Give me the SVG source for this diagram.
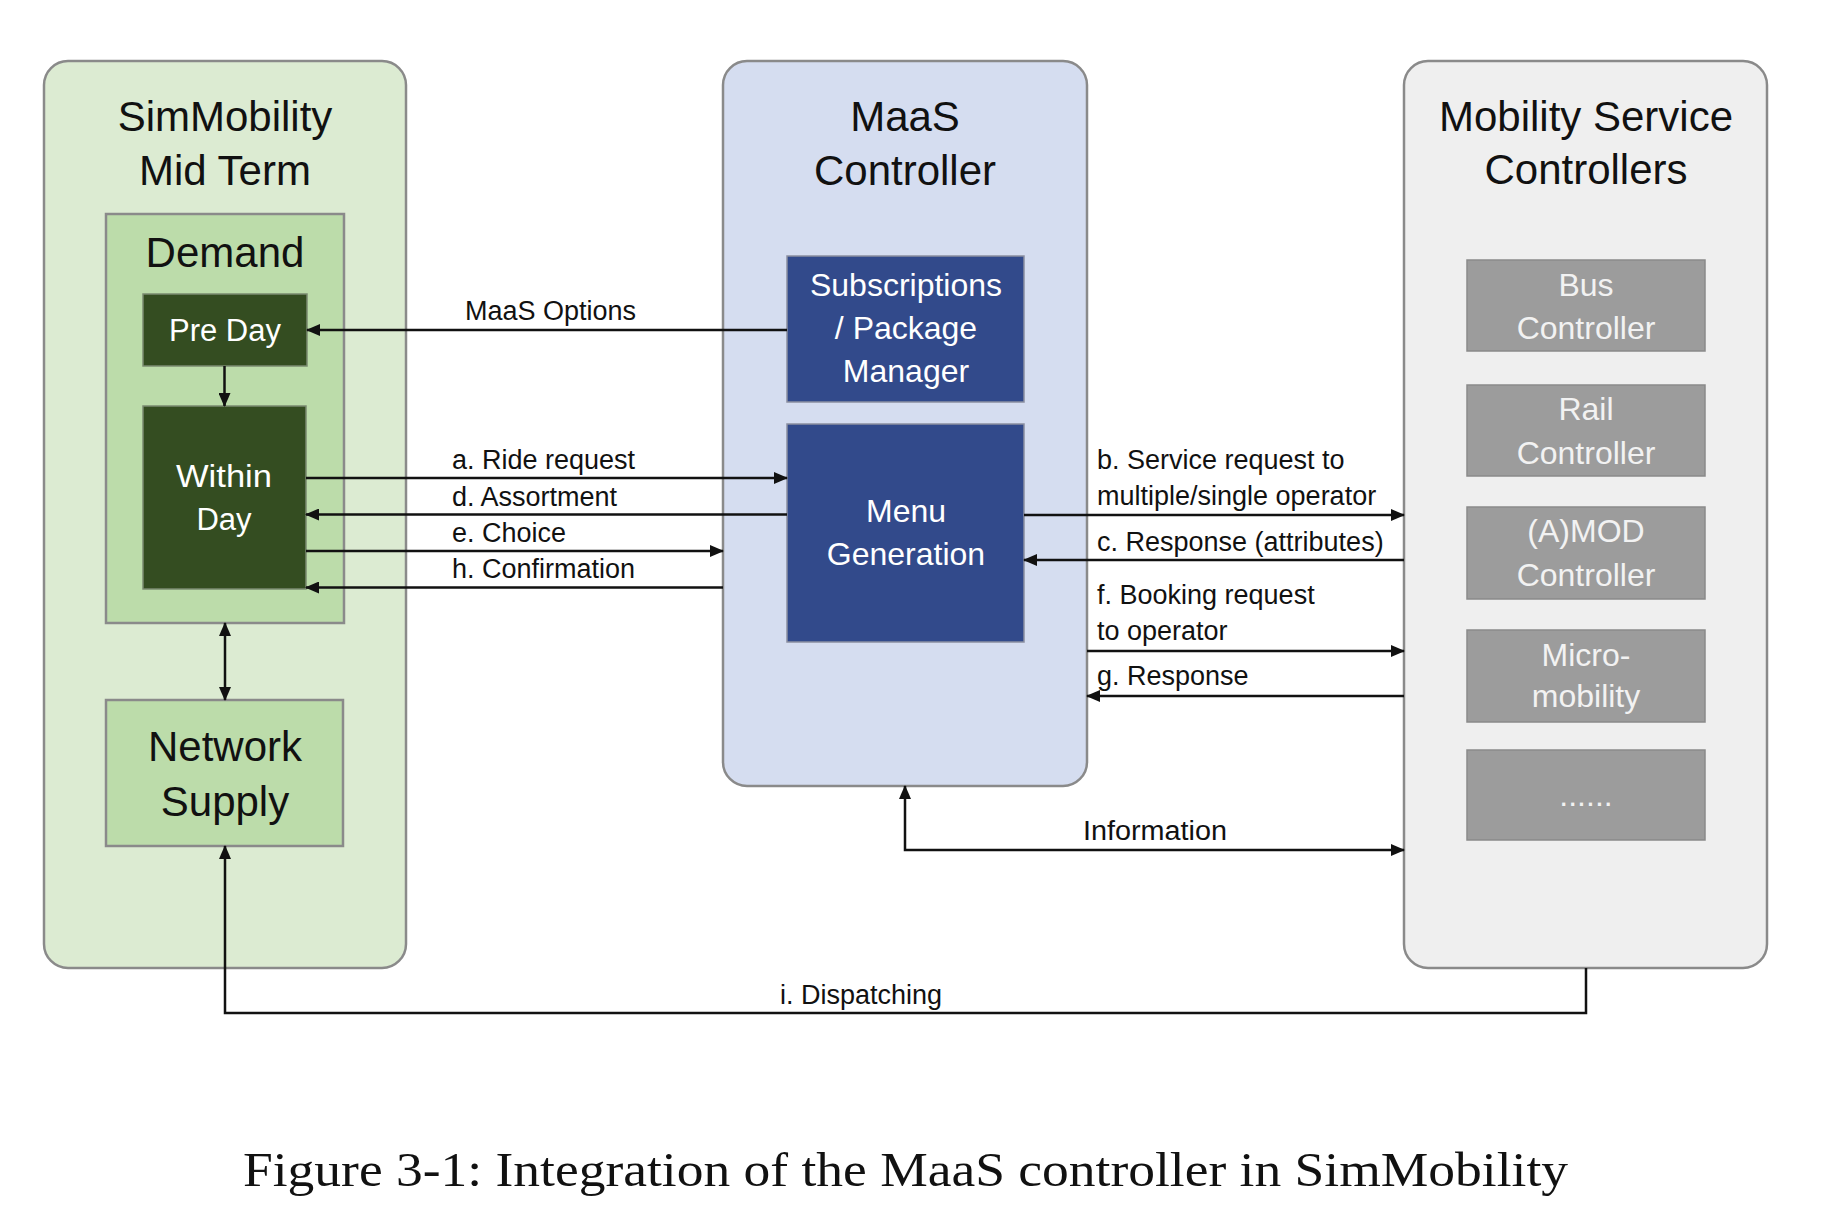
<svg xmlns="http://www.w3.org/2000/svg" width="1827" height="1222" viewBox="0 0 1827 1222">
<defs>
<marker id="ah" markerUnits="userSpaceOnUse" markerWidth="14" markerHeight="12" refX="13" refY="6" orient="auto-start-reverse">
<path d="M0,0 L14,6 L0,12 z" fill="#111"/>
</marker>
<style>
text{font-family:"Liberation Sans",Arial,sans-serif;}
.outer{stroke:#8a8a8a;stroke-width:2.5;}
.title{font-size:42px;fill:#111;text-anchor:middle;}
.mid{fill:#bcdcaa;stroke:#8a8a8a;stroke-width:2.5;}
.dark{fill:#344d21;stroke:#7a8a70;stroke-width:1.5;}
.blue{fill:#324a8b;stroke:#8a8fa0;stroke-width:1.5;}
.grey{fill:#9c9c9c;stroke:#8a8a8a;stroke-width:1.5;}
.wt{fill:#fff;text-anchor:middle;}
.gt{fill:#f2f2f2;text-anchor:middle;font-size:32px;}
.lbl{font-size:27px;fill:#111;}
.con{fill:none;stroke:#111;stroke-width:2.5;}
.cap{font-family:"Liberation Serif","Times New Roman",serif;font-size:48px;fill:#111;}
</style>
</defs>
<rect width="1827" height="1222" fill="#fff"/>

<g id="simmobility">
<rect class="outer" x="44" y="61" width="362" height="907" rx="24" fill="#dcebd2"/>
<text class="title" x="225" y="131" font-size="43">SimMobility</text>
<text class="title" x="225" y="185" font-size="43">Mid Term</text>
</g>
<g id="demand">
<rect class="mid" x="106" y="214" width="238" height="409"/>
<text class="title" x="225" y="267" font-size="40">Demand</text>
</g>
<g id="preday">
<rect class="dark" x="143" y="294" width="164" height="72"/>
<text class="wt" x="225" y="341" font-size="31">Pre Day</text>
</g>
<g id="withinday">
<rect class="dark" x="143" y="406" width="163" height="183"/>
<text class="wt" x="224" y="487" font-size="31" textLength="96" lengthAdjust="spacingAndGlyphs">Within</text>
<text class="wt" x="224" y="530" font-size="31">Day</text>
</g>
<g id="network">
<rect class="mid" x="106" y="700" width="237" height="146"/>
<text class="title" x="225" y="761" font-size="42">Network</text>
<text class="title" x="225" y="816" font-size="42">Supply</text>
</g>

<g id="maas">
<rect class="outer" x="723" y="61" width="364" height="725" rx="24" fill="#d5ddf0"/>
<text class="title" x="905" y="131">MaaS</text>
<text class="title" x="905" y="185">Controller</text>
</g>
<g id="subscriptions">
<rect class="blue" x="787" y="256" width="237" height="146"/>
<text class="wt" x="906" y="296" font-size="32">Subscriptions</text>
<text class="wt" x="906" y="339" font-size="32">/ Package</text>
<text class="wt" x="906" y="382" font-size="32">Manager</text>
</g>
<g id="menu">
<rect class="blue" x="787" y="424" width="237" height="218"/>
<text class="wt" x="906" y="522" font-size="32">Menu</text>
<text class="wt" x="906" y="565" font-size="32">Generation</text>
</g>

<g id="mobility">
<rect class="outer" x="1404" y="61" width="363" height="907" rx="24" fill="#efefef"/>
<text class="title" x="1586" y="131">Mobility Service</text>
<text class="title" x="1586" y="184">Controllers</text>
</g>
<g id="bus">
<rect class="grey" x="1467" y="260" width="238" height="91"/>
<text class="gt" x="1586" y="296">Bus</text>
<text class="gt" x="1586" y="339">Controller</text>
</g>
<g id="rail">
<rect class="grey" x="1467" y="385" width="238" height="91"/>
<text class="gt" x="1586" y="420">Rail</text>
<text class="gt" x="1586" y="464">Controller</text>
</g>
<g id="amod">
<rect class="grey" x="1467" y="507" width="238" height="92"/>
<text class="gt" x="1586" y="542">(A)MOD</text>
<text class="gt" x="1586" y="586">Controller</text>
</g>
<g id="micro">
<rect class="grey" x="1467" y="630" width="238" height="92"/>
<text class="gt" x="1586" y="666">Micro-</text>
<text class="gt" x="1586" y="707">mobility</text>
</g>
<g id="more">
<rect class="grey" x="1467" y="750" width="238" height="90"/>
<text class="gt" x="1586" y="806" font-size="22">......</text>
</g>

<g id="connectors">
<line class="con" x1="787" y1="330" x2="307" y2="330" marker-end="url(#ah)"/>
<line class="con" x1="224.5" y1="366" x2="224.5" y2="406" marker-end="url(#ah)"/>
<line class="con" x1="306" y1="478" x2="787" y2="478" marker-end="url(#ah)"/>
<line class="con" x1="787" y1="514.5" x2="306" y2="514.5" marker-end="url(#ah)"/>
<line class="con" x1="306" y1="551" x2="723" y2="551" marker-end="url(#ah)"/>
<line class="con" x1="723" y1="587.5" x2="306" y2="587.5" marker-end="url(#ah)"/>
<line class="con" x1="1024" y1="515" x2="1404" y2="515" marker-end="url(#ah)"/>
<line class="con" x1="1404" y1="560" x2="1024" y2="560" marker-end="url(#ah)"/>
<line class="con" x1="1087" y1="651" x2="1404" y2="651" marker-end="url(#ah)"/>
<line class="con" x1="1404" y1="696" x2="1087" y2="696" marker-end="url(#ah)"/>
<path class="con" d="M905,786 V850 H1404" marker-start="url(#ah)" marker-end="url(#ah)"/>
<line class="con" x1="225" y1="623" x2="225" y2="700" marker-start="url(#ah)" marker-end="url(#ah)"/>
<path class="con" d="M1586,968 V1013 H225 V846" marker-end="url(#ah)"/>
<text class="lbl" x="465" y="320">MaaS Options</text>
<text class="lbl" x="452" y="469">a. Ride request</text>
<text class="lbl" x="452" y="506">d. Assortment</text>
<text class="lbl" x="452" y="542">e. Choice</text>
<text class="lbl" x="452" y="578">h. Confirmation</text>
<text class="lbl" x="1097" y="469">b. Service request to</text>
<text class="lbl" x="1097" y="505">multiple/single operator</text>
<text class="lbl" x="1097" y="551">c. Response (attributes)</text>
<text class="lbl" x="1097" y="604">f. Booking request</text>
<text class="lbl" x="1097" y="640">to operator</text>
<text class="lbl" x="1097" y="685">g. Response</text>
<text class="lbl" x="1083" y="840" textLength="144" lengthAdjust="spacingAndGlyphs">Information</text>
<text class="lbl" x="780" y="1004">i. Dispatching</text>
</g>

<text class="cap" x="243" y="1186" textLength="1325" lengthAdjust="spacingAndGlyphs">Figure 3-1: Integration of the MaaS controller in SimMobility</text>
</svg>
